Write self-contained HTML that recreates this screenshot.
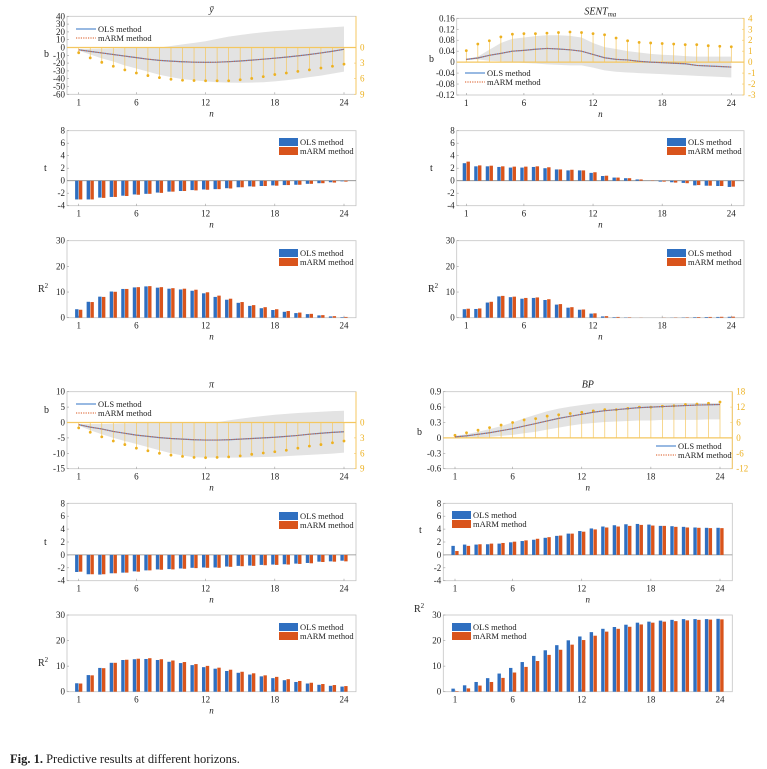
<!DOCTYPE html>
<html><head><meta charset="utf-8"><style>
html,body{margin:0;padding:0;background:#fff;}
svg{display:block;font-family:"Liberation Serif",serif;}
</style></head><body>
<svg id="s" width="767" height="769" viewBox="0 0 767 769" xmlns="http://www.w3.org/2000/svg">
<text x="10" y="763" font-size="12.5" fill="#222"><tspan font-weight="bold">Fig. 1.</tspan>  Predictive results at different horizons.</text>
</svg>
<script>
var S=document.getElementById('s');var out='';
function T(x,y,s,o){o=o||{};out+='<text x="'+x+'" y="'+y+'" font-size="'+(o.fs||9)+'" fill="'+(o.c||'#222')+'"'+(o.a?' text-anchor="'+o.a+'"':'')+(o.i?' font-style="italic"':'')+'>'+s+'</text>';}
function L(x1,y1,x2,y2,c,w,d){out+='<line x1="'+x1+'" y1="'+y1+'" x2="'+x2+'" y2="'+y2+'" stroke="'+c+'" stroke-width="'+(w||1)+'"'+(d?' stroke-dasharray="'+d+'"':'')+'/>';}
function R(x,y,w,h,c){out+='<rect x="'+x+'" y="'+y+'" width="'+w+'" height="'+h+'" fill="'+c+'"/>';}
var BLUE='#2f6fc0',ORG='#d9541c',GOLD='#edb120',GL='#f4c760';
function frame(p,ymin,ymax,ticks,lab,labx,laby,nlab){
  var X=function(n){return p.t1+(n-1)*(p.t24-p.t1)/23;};
  var Y=function(v){return p.y1-(v-ymin)/(ymax-ymin)*(p.y1-p.y0);};
  out+='<rect x="'+p.x0+'" y="'+p.y0+'" width="'+(p.x1-p.x0)+'" height="'+(p.y1-p.y0)+'" fill="none" stroke="#c4c4c4" stroke-width="0.8"/>';
  ticks.forEach(function(t){T(p.x0-2,Y(t)+3,t,{a:'end'});L(p.x0,Y(t),p.x0+2,Y(t),'#999',0.6);});
  [1,6,12,18,24].forEach(function(n){T(X(n),p.y1+11,n,{a:'middle'});L(X(n),p.y1,X(n),p.y1-2,'#999',0.6);});
  if(nlab)T((p.x0+p.x1)/2,p.y1+22,'n',{a:'middle',i:1,fs:9});
  out+='<text x="'+labx+'" y="'+laby+'" font-size="10" fill="#222">'+lab+'</text>';
  return {X:X,Y:Y};
}
function bars(p,ymin,ymax,ticks,A,B,lab,labx,laby,leg,nlab){
  var f=frame(p,ymin,ymax,ticks,lab,labx,laby,nlab);
  if(ymin<0)L(p.x0,f.Y(0),p.x1,f.Y(0),'#888',0.8);
  for(var i=0;i<24;i++){var x=f.X(i+1),z=f.Y(0);
    var a=f.Y(A[i]),b=f.Y(B[i]);
    R(x-3.6,Math.min(a,z),3.4,Math.abs(a-z),BLUE);
    R(x+0.2,Math.min(b,z),3.4,Math.abs(b-z),ORG);}
  R(leg[0],leg[1],19,8,BLUE);R(leg[0],leg[1]+9,19,8,ORG);
  T(leg[0]+21,leg[1]+7,'OLS method',{fs:8.5});T(leg[0]+21,leg[1]+16,'mARM method',{fs:8.5});
}
function bplot(p,ymin,ymax,ticks,rext,rticks,rflip,line,up,lo,dots,title,labx,laby,leg){
  var f=frame(p,ymin,ymax,ticks,'b',labx,laby,1);
  var z0=f.Y(0);
  var RY=function(v){return rflip? z0+v*(p.y1-z0)/rext : z0-v*(z0-p.y0)/rext;};
  var pts=[];for(var i=0;i<24;i++)pts.push(f.X(i+1)+','+f.Y(up[i]));for(i=23;i>=0;i--)pts.push(f.X(i+1)+','+f.Y(lo[i]));
  out+='<polygon points="'+pts.join(' ')+'" fill="#e3e3e3"/>';
  L(p.x1,p.y0,p.x1,p.y1,GL,1);
  rticks.forEach(function(t){T(p.x1+4,RY(t)+3,t,{c:GOLD});L(p.x1,RY(t),p.x1-2,RY(t),GL,0.6);});
  L(p.x0,z0,p.x1,z0,GL,1.2);
  for(i=0;i<24;i++){var x=f.X(i+1),y=RY(dots[i]);L(x,z0,x,y,GL,0.7);out+='<circle cx="'+x+'" cy="'+y+'" r="1.4" fill="'+GOLD+'"/>';}
  var lp=line.map(function(v,i){return f.X(i+1)+','+f.Y(v);}).join(' ');
  out+='<polyline points="'+lp+'" fill="none" stroke="#5b8fd0" stroke-width="1.2"/>';
  out+='<polyline points="'+lp+'" fill="none" stroke="#e0602a" stroke-width="1" stroke-dasharray="1.2,1.2"/>';
  out+='<text x="'+(p.x0+p.x1)/2+'" y="'+(p.y0-4)+'" font-size="10" font-style="italic" text-anchor="middle" fill="#222">'+title+'</text>';
  L(leg[0],leg[1],leg[0]+20,leg[1],'#5b8fd0',1.2);T(leg[0]+22,leg[1]+3,'OLS method',{fs:8.5});
  L(leg[0],leg[1]+9,leg[0]+20,leg[1]+9,ORG,1,'1.2,1.2');T(leg[0]+22,leg[1]+12,'mARM method',{fs:8.5});
}
var TL={x0:67,x1:356,t1:78.7,t24:344};
var TR={x0:456.7,x1:744,t1:466.3,t24:731.3};
var BR={x0:443.3,x1:732.3,t1:455,t24:720};
function P(g,y0,y1){return {x0:g.x0,x1:g.x1,t1:g.t1,t24:g.t24,y0:y0,y1:y1};}
// ybar
bplot(P(TL,16.3,94.3),-60,40,[40,30,20,10,0,-10,-20,-30,-40,-50,-60],9,[0,3,6,9],1,
[-3,-5,-7,-9,-11,-13,-15,-16.5,-17.5,-18.3,-18.8,-19,-18.8,-18.2,-17.3,-16.2,-15,-13.7,-12.3,-10.7,-9,-7,-4.8,-2.3],
[-2,-1.8,-1.5,-1.2,-0.8,-0.5,-0.2,0,2,4,6,8,11,14,16,18,19.5,21,22,23,24,25,26,27],
[-4,-9,-14,-18,-23,-27,-31,-35,-38,-40.5,-42,-43.5,-44.5,-45,-45.2,-45,-44.5,-43.5,-42,-40,-38,-36,-33.5,-31],
[1,2,2.85,3.6,4.3,4.9,5.4,5.8,6.1,6.3,6.35,6.4,6.4,6.4,6.2,5.95,5.6,5.2,4.9,4.6,4.3,3.95,3.6,3.2],
'ȳ',44,57,[76,29]);
bars(P(TL,130.7,205.7),-4,8,[8,6,4,2,0,-2,-4],
[-3,-3,-2.7,-2.6,-2.4,-2.2,-2.1,-1.9,-1.75,-1.65,-1.5,-1.4,-1.35,-1.2,-1.05,-0.9,-0.85,-0.75,-0.7,-0.65,-0.5,-0.4,-0.25,-0.1],
[-3,-3,-2.75,-2.6,-2.45,-2.25,-2.1,-1.95,-1.75,-1.65,-1.55,-1.45,-1.35,-1.25,-1.05,-0.95,-0.85,-0.8,-0.7,-0.65,-0.5,-0.4,-0.3,-0.15],
't',44,171,[279,138],1);
bars(P(TL,240.7,317.7),0,30,[30,20,10,0],
[3.3,6.2,8.2,10.2,11.2,11.8,12.2,11.7,11.3,11,10.5,9.5,8.1,7.0,5.8,4.6,3.7,3.0,2.3,1.8,1.4,0.9,0.5,0.2],
[3.1,6.1,8.1,10.1,11.2,11.9,12.3,11.9,11.5,11.3,10.9,9.9,8.6,7.4,6.1,4.9,4.1,3.3,2.6,2.0,1.5,1.0,0.6,0.3],
'R<tspan font-size="7" dy="-4">2</tspan>',38,292,[279,249],1);
// SENT
bplot(P(TR,18.3,95),-0.12,0.16,[0.16,0.12,0.08,0.04,0,-0.04,-0.08,-0.12],4,[4,3,2,1,0,-1,-2,-3],0,
[0.01,0.015,0.025,0.032,0.04,0.043,0.047,0.05,0.048,0.045,0.04,0.028,0.016,0.01,0.008,0.003,0,-0.002,-0.004,-0.006,-0.012,-0.014,-0.016,-0.018],
[0.012,0.02,0.045,0.07,0.085,0.09,0.095,0.098,0.098,0.096,0.09,0.07,0.055,0.048,0.04,0.035,0.03,0.027,0.025,0.022,0.02,0.02,0.02,0.02],
[0.008,0.01,0.005,0.003,0.001,-0.003,-0.005,-0.008,-0.01,-0.012,-0.012,-0.02,-0.03,-0.035,-0.038,-0.04,-0.042,-0.044,-0.046,-0.048,-0.05,-0.052,-0.054,-0.056],
[1.05,1.65,1.95,2.3,2.55,2.6,2.6,2.65,2.7,2.75,2.7,2.6,2.5,2.2,1.95,1.8,1.75,1.7,1.65,1.6,1.6,1.5,1.45,1.4],
'SENT<tspan font-size="7" dy="2">ma</tspan>',429,62,[465,73]);
bars(P(TR,130.7,205.7),-4,8,[8,6,4,2,0,-2,-4],
[2.8,2.3,2.3,2.2,2.1,2.1,2.2,2.0,1.8,1.65,1.65,1.25,0.75,0.5,0.4,0.2,0,-0.15,-0.25,-0.35,-0.75,-0.8,-0.85,-1.0],
[3.05,2.45,2.4,2.3,2.25,2.25,2.3,2.15,1.8,1.75,1.65,1.35,0.8,0.5,0.4,0.2,-0.05,-0.15,-0.3,-0.4,-0.7,-0.8,-0.85,-0.95],
't',430,171,[667,138],1);
bars(P(TR,240.7,317.7),0,30,[30,20,10,0],
[3.3,3.4,5.9,8.3,8.0,7.4,7.7,6.9,5.1,3.9,3.1,1.6,0.5,0.2,0.1,0,0,0,0.05,0.1,0.2,0.25,0.3,0.35],
[3.5,3.6,6.2,8.5,8.2,7.7,7.9,7.2,5.3,4.1,3.2,1.7,0.6,0.3,0.15,0.05,0,0.05,0.1,0.15,0.25,0.3,0.35,0.4],
'R<tspan font-size="7" dy="-4">2</tspan>',428,292,[667,249],1);
// pi
bplot(P(TL,391.7,468.7),-15,10,[10,5,0,-5,-10,-15],9,[0,3,6,9],1,
[-0.7,-1.5,-2.1,-2.9,-3.5,-4.1,-4.5,-4.9,-5.2,-5.4,-5.6,-5.7,-5.7,-5.6,-5.4,-5.2,-5,-4.8,-4.5,-4.2,-3.8,-3.5,-3.2,-3.0],
[-0.5,-0.5,-0.5,-0.4,-0.3,-0.2,-0.1,0,0,0,0,0,0.1,0.7,1.2,1.7,2.1,2.5,2.8,3.1,3.3,3.5,3.7,3.8],
[-1,-2.5,-3.8,-5,-6,-7,-8,-9,-10,-10.7,-11.3,-11.4,-11.4,-11.4,-11.4,-11.3,-11.2,-11.1,-10.9,-10.7,-10.5,-10.3,-10.1,-9.8],
[1.04,1.9,2.8,3.6,4.3,5.0,5.5,6.0,6.35,6.6,6.8,6.85,6.8,6.7,6.5,6.2,5.95,5.7,5.4,5.0,4.6,4.3,3.95,3.6],
'π',44,413,[76,404]);
bars(P(TL,503.3,580.7),-4,8,[8,6,4,2,0,-2,-4],
[-2.65,-3.0,-3.05,-2.85,-2.75,-2.55,-2.4,-2.25,-2.2,-2.1,-2.0,-1.95,-1.95,-1.8,-1.7,-1.65,-1.55,-1.5,-1.45,-1.35,-1.25,-1.05,-1.0,-0.9],
[-2.6,-3.0,-3.0,-2.85,-2.75,-2.6,-2.4,-2.3,-2.25,-2.15,-2.05,-2.0,-2.0,-1.85,-1.75,-1.7,-1.6,-1.55,-1.5,-1.4,-1.3,-1.1,-1.05,-1.0],
't',44,545,[279,512],1);
bars(P(TL,615,691.7),0,30,[30,20,10,0],
[3.3,6.5,9.3,11.3,12.4,12.7,12.8,12.4,11.7,11.2,10.4,9.6,9.0,8.1,7.4,6.7,6.0,5.3,4.5,3.8,3.2,2.7,2.3,2.0],
[3.2,6.4,9.2,11.3,12.5,12.9,13.1,12.7,12.2,11.6,10.8,10.1,9.4,8.6,7.8,7.2,6.4,5.8,4.9,4.2,3.5,3.0,2.6,2.2],
'R<tspan font-size="7" dy="-4">2</tspan>',38,666,[279,623],1);
// BP
bplot(P(BR,391.7,468.7),-0.6,0.9,[0.9,0.6,0.3,0,-0.3,-0.6],18,[18,12,6,0,-6,-12],0,
[0.02,0.04,0.07,0.1,0.14,0.18,0.23,0.28,0.33,0.38,0.42,0.46,0.5,0.53,0.55,0.57,0.59,0.6,0.61,0.62,0.63,0.64,0.645,0.65],
[0.04,0.07,0.12,0.17,0.23,0.3,0.38,0.45,0.52,0.57,0.61,0.64,0.67,0.68,0.68,0.68,0.68,0.68,0.68,0.68,0.68,0.68,0.68,0.68],
[0,0,0.01,0.02,0.04,0.06,0.09,0.12,0.16,0.2,0.24,0.27,0.29,0.31,0.32,0.33,0.34,0.34,0.35,0.35,0.35,0.35,0.36,0.36],
[1,2,3,4,5,6,7,7.5,8.5,9,9.5,10,10.5,11,11,11.5,12,12,12.3,12.5,13,13.2,13.5,14],
'BP',417,435,[656,446]);
bars(P(BR,503.3,580.7),-4,8,[8,6,4,2,0,-2,-4],
[1.4,1.6,1.6,1.65,1.75,1.95,2.15,2.35,2.65,2.95,3.3,3.7,4.1,4.4,4.6,4.75,4.8,4.7,4.5,4.45,4.35,4.25,4.2,4.2],
[0.6,1.4,1.65,1.75,1.85,2.05,2.25,2.5,2.75,3.0,3.3,3.6,3.95,4.25,4.4,4.5,4.65,4.55,4.5,4.35,4.25,4.2,4.15,4.15],
't',419,533,[452,511],1);
bars(P(BR,615,691.7),0,30,[30,20,10,0],
[1.2,2.5,3.8,5.3,7.1,9.3,11.6,14,16.2,18.2,20.1,21.6,23.3,24.6,25.3,26.2,27,27.4,27.8,28.1,28.4,28.4,28.4,28.5],
[0.2,1.3,2.4,3.8,5.4,7.5,9.7,12,14.4,16.4,18.4,20.2,21.9,23.5,24.6,25.4,26.3,27,27.4,27.6,27.9,28.1,28.2,28.3],
'R<tspan font-size="7" dy="-4">2</tspan>',414,612,[452,623],0);
S.insertAdjacentHTML('beforeend',out);
</script>
</body></html>
